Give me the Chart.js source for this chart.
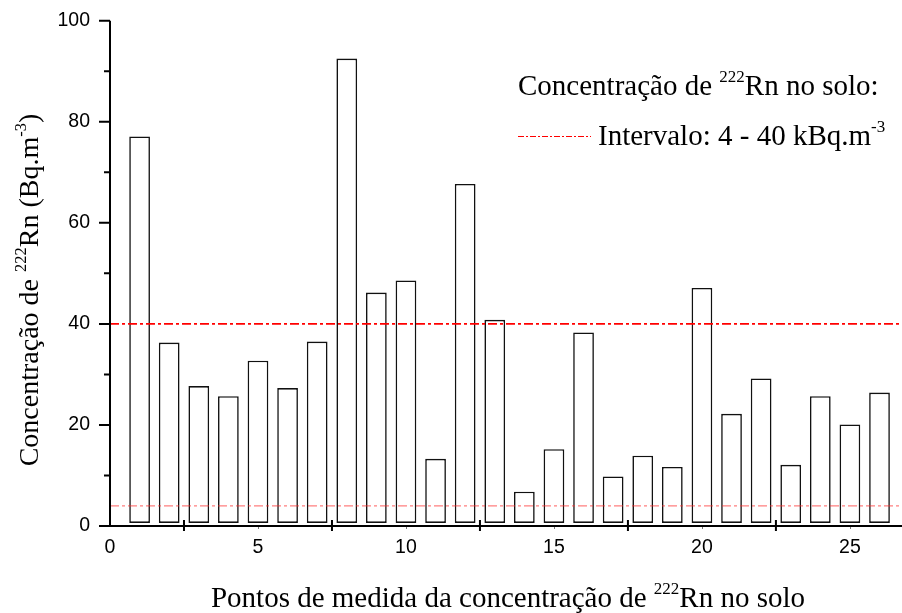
<!DOCTYPE html>
<html>
<head>
<meta charset="utf-8">
<script src="https://cdn.jsdelivr.net/npm/chart.js@4.4.1/dist/chart.umd.min.js"></script>
<style>
  html, body { margin: 0; padding: 0; background: #fff; }
  #wrap { width: 902px; height: 613px; position: relative; }
</style>
</head>
<body>
<div id="wrap"><canvas id="c" width="902" height="613"></canvas></div>
<script>
// Measurement points and radon concentration per point
const points = [1, 2, 3, 4, 5, 6, 7, 8, 9, 10, 11, 12, 13, 14, 15, 16, 17, 18, 19, 20, 21, 22, 23, 24, 25, 26];
const concentrations = [77.1, 36.3, 27.7, 25.7, 32.7, 27.3, 36.5, 92.5, 46.2, 48.6, 13.3, 67.7, 40.8,
                        6.8, 15.2, 38.3, 9.8, 13.9, 11.7, 47.1, 22.2, 29.2, 12.1, 25.7, 20.1, 26.4];
// Reference interval (lower and upper limit)
const rangeLimits = [4, 40];
// Axis ticks
const xTickLabels = [0, 5, 10, 15, 20, 25];
const xCrossTicks = [2.5, 7.5, 12.5, 17.5, 22.5];
const yTickLabels = [0, 20, 40, 60, 80, 100];
const yMinorTicks = [10, 30, 50, 70, 90];

const X_MAX = 26.76;
const SERIF = '"Liberation Serif", "Times New Roman", serif';
const SANS = '"Liberation Sans", Arial, sans-serif';

const barData = points.map((p, i) => ({ x: p, y: concentrations[i] }));
const limitLine = v => [{ x: 0, y: v }, { x: X_MAX, y: v }];

// Text with superscript runs
function runsWidth(ctx, runs, st) {
  let w = 0;
  runs.forEach(r => {
    ctx.font = (r.sup ? st.sup : st.main) + 'px ' + SERIF;
    w += ctx.measureText(r.t).width;
  });
  return w;
}
function drawRuns(ctx, x, y, runs, align, st) {
  const w = runsWidth(ctx, runs, st);
  let cx = align === 'center' ? x - w / 2 : x;
  ctx.textBaseline = 'alphabetic';
  ctx.textAlign = 'left';
  ctx.fillStyle = '#000';
  runs.forEach(r => {
    ctx.font = (r.sup ? st.sup : st.main) + 'px ' + SERIF;
    ctx.fillText(r.t, cx, r.sup ? y - st.raise : y);
    cx += ctx.measureText(r.t).width;
  });
}
const TXT = { main: 29, sup: 17, raise: 13 };
const TXT_Y = { main: 28, sup: 16.5, raise: 12.5 };

const decorations = {
  id: 'decorations',
  afterDraw(chart) {
    const ctx = chart.ctx;
    const xs = chart.scales.x, ys = chart.scales.y;
    const x0 = xs.getPixelForValue(0);
    const y0 = ys.getPixelForValue(0);
    const yTop = ys.getPixelForValue(100);
    ctx.save();
    ctx.strokeStyle = '#000';
    ctx.lineWidth = 2;
    ctx.beginPath();
    ctx.moveTo(x0, yTop); ctx.lineTo(x0, y0 + 1);
    ctx.moveTo(x0 - 1, y0); ctx.lineTo(chart.width, y0);
    ctx.stroke();
    // y ticks
    ctx.beginPath();
    yTickLabels.forEach(v => { const p = ys.getPixelForValue(v); ctx.moveTo(x0 - 11, p); ctx.lineTo(x0, p); });
    yMinorTicks.forEach(v => { const p = ys.getPixelForValue(v); ctx.moveTo(x0 - 6, p); ctx.lineTo(x0, p); });
    ctx.stroke();
    // x ticks crossing the axis
    ctx.beginPath();
    xCrossTicks.forEach(v => { const p = xs.getPixelForValue(v); ctx.moveTo(p, y0 - 6); ctx.lineTo(p, y0 + 5); });
    ctx.stroke();
    ctx.lineWidth = 1;
    ctx.strokeStyle = '#777';
    ctx.beginPath();
    xTickLabels.slice(1).forEach(v => { const p = Math.round(xs.getPixelForValue(v)) + 0.5; ctx.moveTo(p, y0 + 1); ctx.lineTo(p, y0 + 3); });
    ctx.stroke();

    // axis titles
    drawRuns(ctx, 508, 607, [
      { t: 'Pontos de medida da concentração de ' }, { t: '222', sup: true }, { t: 'Rn no solo' }
    ], 'center', TXT);
    ctx.save();
    ctx.translate(38, 290);
    ctx.rotate(-Math.PI / 2);
    drawRuns(ctx, 0, 0, [
      { t: 'Concentração de ' }, { t: '222', sup: true }, { t: 'Rn (Bq.m' }, { t: '-3', sup: true }, { t: ')' }
    ], 'center', TXT_Y);
    ctx.restore();

    // legend
    drawRuns(ctx, 518, 95, [
      { t: 'Concentração de ' }, { t: '222', sup: true }, { t: 'Rn no solo:' }
    ], 'left', TXT);
    ctx.strokeStyle = '#ff0000';
    ctx.lineWidth = 1;
    ctx.setLineDash([6, 2, 2, 2]);
    ctx.beginPath();
    ctx.moveTo(518, 136.5); ctx.lineTo(591, 136.5);
    ctx.stroke();
    ctx.setLineDash([]);
    drawRuns(ctx, 598, 145, [
      { t: 'Intervalo: 4 - 40 kBq.m' }, { t: '-3', sup: true }
    ], 'left', TXT);
    ctx.restore();
  }
};

new Chart(document.getElementById('c'), {
  type: 'bar',
  data: {
    datasets: [
      {
        type: 'line', data: limitLine(rangeLimits[1]), order: 0,
        borderColor: '#ff0000', borderWidth: 1.6, borderDash: [9, 3, 3, 3],
        pointRadius: 0, fill: false
      },
      {
        type: 'line', data: limitLine(rangeLimits[0]), order: 0,
        borderColor: 'rgba(255,40,40,0.6)', borderWidth: 1.3, borderDash: [9, 3, 3, 3],
        pointRadius: 0, fill: false
      },
      {
        type: 'bar', data: barData, order: 1, base: 0.6,
        backgroundColor: '#ffffff', borderColor: '#111', borderWidth: 1.6,
        borderSkipped: false, barPercentage: 0.7, categoryPercentage: 1.0
      }
    ]
  },
  options: {
    responsive: false,
    animation: false,
    events: [],
    layout: { padding: { top: 20.7, right: 0, left: 0, bottom: 0 } },
    plugins: { legend: { display: false }, tooltip: { enabled: false } },
    scales: {
      x: {
        type: 'linear', min: 0, max: X_MAX, offset: false,
        grid: { display: false, drawTicks: false }, border: { display: false },
        ticks: {
          stepSize: 5, includeBounds: false, padding: 10, color: '#000',
          font: { family: SANS, size: 19.5 },
          callback: v => (xTickLabels.includes(v) ? String(v) : '')
        },
        afterFit: s => { s.height = 87; s.paddingLeft = 0; s.paddingRight = 0; }
      },
      y: {
        min: 0, max: 100,
        grid: { display: false, drawTicks: false }, border: { display: false },
        ticks: {
          stepSize: 20, padding: 20, color: '#000',
          font: { family: SANS, size: 19.5 },
          callback: v => (yTickLabels.includes(v) ? String(v) : '')
        },
        afterFit: s => { s.width = 110; s.paddingTop = 0; s.paddingBottom = 0; }
      }
    }
  },
  plugins: [decorations]
});
</script>
</body>
</html>
